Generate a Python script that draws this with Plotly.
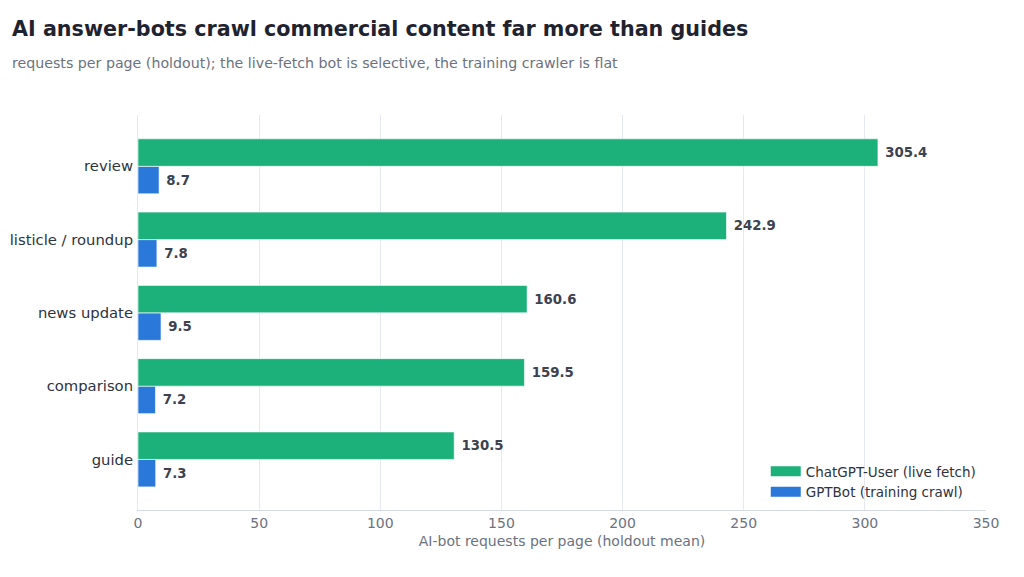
import plotly.graph_objects as go

categories = ["guide", "comparison", "news update", "listicle / roundup", "review"]
chatgpt_user = [130.5, 159.5, 160.6, 242.9, 305.4]
gptbot = [7.3, 7.2, 9.5, 7.8, 8.7]
x_ticks = [0, 50, 100, 150, 200, 250, 300, 350]
series_names = ["ChatGPT-User (live fetch)", "GPTBot (training crawl)"]

GREEN = "#1cb07a"
BLUE = "#2a78d9"
FONT = "DejaVu Sans"
W, H = 1024, 577
ML, MR, MT, MB = 138, 38, 115, 67

fig = go.Figure()
fig.add_trace(go.Bar(
    y=categories, x=gptbot, orientation="h", name=series_names[1], showlegend=False,
    marker=dict(color=BLUE, line=dict(color="rgba(255,255,255,0.6)", width=1)),
    text=[f"<b>{v:.1f}</b>" for v in gptbot], textposition="outside",
    texttemplate=" %{text}",
    textfont=dict(family=FONT, size=13.3, color="#3d4250"),
    cliponaxis=False,
))
fig.add_trace(go.Bar(
    y=categories, x=chatgpt_user, orientation="h", name=series_names[0], showlegend=False,
    marker=dict(color=GREEN, line=dict(color="rgba(255,255,255,0.6)", width=1)),
    text=[f"<b>{v:.1f}</b>" for v in chatgpt_user], textposition="outside",
    texttemplate=" %{text}",
    textfont=dict(family=FONT, size=13.3, color="#3d4250"),
    cliponaxis=False,
))
# legend-only entries with wide rectangular swatches
for name, col in zip(series_names, [GREEN, BLUE]):
    fig.add_trace(go.Scatter(
        x=[None], y=[None], mode="lines", name=name,
        line=dict(color=col, width=10), hoverinfo="skip",
    ))

plot_h = H - MT - MB
plot_w = W - ML - MR

fig.update_layout(
    width=W, height=H,
    barmode="group", bargap=0.25, bargroupgap=0,
    plot_bgcolor="white", paper_bgcolor="white",
    font=dict(family=FONT, color="#2d3340"),
    margin=dict(l=ML, r=MR, t=MT, b=MB, autoexpand=False),
    title=dict(
        text="<b>AI answer-bots crawl commercial content far more than guides</b>",
        x=12 / W, xanchor="left", xref="container",
        y=1 - 29 / H, yanchor="middle", yref="container",
        font=dict(family=FONT, size=20.7, color="#1f2330"),
    ),
    annotations=[dict(
        text="requests per page (holdout); the live-fetch bot is selective, the training crawler is flat",
        xref="paper", yref="paper",
        x=(10 - ML) / plot_w, xanchor="left",
        y=(H - MB - 63) / plot_h, yanchor="middle",
        showarrow=False, font=dict(family=FONT, size=14.2, color="#6b7280"),
    )],
    legend=dict(
        x=0.995, y=0.005, xanchor="right", yanchor="bottom",
        bgcolor="rgba(255,255,255,0)", itemwidth=30, tracegroupgap=0,
        font=dict(family=FONT, size=13.5, color="#2d3340"),
    ),
    xaxis=dict(
        range=[0, 350], tickvals=x_ticks, ticktext=[str(t) for t in x_ticks],
        showgrid=True, gridcolor="#e6e8f0", gridwidth=1,
        zeroline=False, showline=True, linecolor="#d5d8e6",
        tickfont=dict(family=FONT, size=14, color="#6b7280"),
        title=dict(text="AI-bot requests per page (holdout mean)",
                   font=dict(family=FONT, size=14, color="#6b7280"), standoff=6),
        ticks="", automargin=False,
    ),
    yaxis=dict(
        categoryorder="array", categoryarray=categories,
        range=[-0.69, 4.7],
        showgrid=False, showline=True, linecolor="#e6e8f0",
        tickfont=dict(family=FONT, size=14.8, color="#2d3340"),
        ticks="", ticklabelstandoff=1, automargin=False,
    ),
)

fig.write_html("out.html")
